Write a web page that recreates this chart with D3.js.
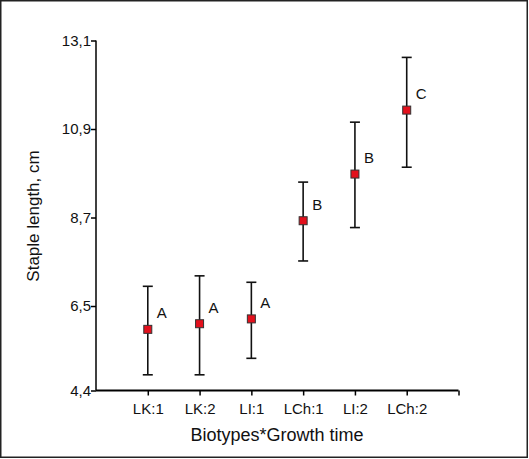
<!DOCTYPE html>
<html>
<head>
<meta charset="utf-8">
<script src="https://cdn.jsdelivr.net/npm/d3@7"></script>
<style>
  body { margin: 0; background: #fff; }
  text { font-family: "Liberation Sans", Arial, sans-serif; fill: #111; }
</style>
</head>
<body>
<svg id="chart" width="529" height="459"></svg>
<script>
// data
var groups = ["LK:1", "LK:2", "LI:1", "LCh:1", "LI:2", "LCh:2"];
var means  = [5.92, 6.06, 6.18, 8.62, 9.78, 11.37];
var upper  = [6.99, 7.25, 7.09, 9.58, 11.07, 12.68];
var lower  = [4.79, 4.79, 5.20, 7.62, 8.45, 9.95];
var letters = ["A", "A", "A", "B", "B", "C"];
var yTicks = [4.4, 6.5, 8.7, 10.9, 13.1];

var svg = d3.select("#chart");

// frame
svg.append("rect").attr("x", 0.75).attr("y", 0.75).attr("width", 526.5).attr("height", 456.5)
  .attr("fill", "none").attr("stroke", "#222").attr("stroke-width", 1.5);

var x = d3.scaleLinear().domain([0, groups.length + 1]).range([96, 458.5]);
var y = d3.scaleLinear().domain([4.4, 13.1]).range([390.5, 40.5]);

var xAxis = d3.axisBottom(x)
  .tickValues(d3.range(1, groups.length + 2))
  .tickSize(5).tickPadding(8)
  .tickFormat(function(i) { return groups[i - 1] || ""; });

var yAxis = d3.axisLeft(y)
  .tickValues(yTicks)
  .tickSize(5).tickPadding(0)
  .tickFormat(function(d) { return d.toFixed(1).replace(".", ","); });

var gx = svg.append("g").attr("transform", "translate(0," + y(4.4) + ")").call(xAxis);
gx.select(".domain").attr("d", "M" + x(0) + ",0H" + x(groups.length + 1)).attr("stroke-width", 1.8);
gx.selectAll(".tick line").attr("stroke-width", 1.5);
gx.selectAll("text").attr("font-size", 15).attr("fill", "#111");

var gy = svg.append("g").attr("transform", "translate(" + x(0) + ",0)").call(yAxis);
gy.select(".domain").attr("d", "M0," + y(13.1) + "V" + y(4.4)).attr("stroke-width", 1.5);
gy.selectAll(".tick line").attr("stroke-width", 1.5);
gy.selectAll("text").attr("font-size", 15).attr("fill", "#111");

// axis titles
svg.append("text").attr("x", 277).attr("y", 441).attr("text-anchor", "middle")
  .attr("font-size", 18).text("Biotypes*Growth time");
svg.append("text").attr("transform", "translate(38.5,216)rotate(-90)").attr("text-anchor", "middle")
  .attr("font-size", 17).text("Staple length, cm");

// error bars
var bars = svg.append("g").selectAll("g").data(groups).join("g");
bars.append("line")
  .attr("x1", function(d, i) { return x(i + 1); }).attr("x2", function(d, i) { return x(i + 1); })
  .attr("y1", function(d, i) { return y(lower[i]); }).attr("y2", function(d, i) { return y(upper[i]); })
  .attr("stroke", "#111").attr("stroke-width", 1.6);
[upper, lower].forEach(function(arr) {
  bars.append("line")
    .attr("x1", function(d, i) { return x(i + 1) - 5; }).attr("x2", function(d, i) { return x(i + 1) + 5; })
    .attr("y1", function(d, i) { return y(arr[i]); }).attr("y2", function(d, i) { return y(arr[i]); })
    .attr("stroke", "#111").attr("stroke-width", 1.6);
});

// mean markers
bars.append("rect")
  .attr("x", function(d, i) { return x(i + 1) - 4; })
  .attr("y", function(d, i) { return y(means[i]) - 4; })
  .attr("width", 8).attr("height", 8)
  .attr("fill", "#e3101c").attr("stroke", "#333").attr("stroke-width", 1);

// group letters
bars.append("text")
  .attr("x", function(d, i) { return x(i + 1) + 9; })
  .attr("y", function(d, i) { return y(means[i]) - 11; })
  .attr("font-size", 15).text(function(d, i) { return letters[i]; });
</script>
</body>
</html>
